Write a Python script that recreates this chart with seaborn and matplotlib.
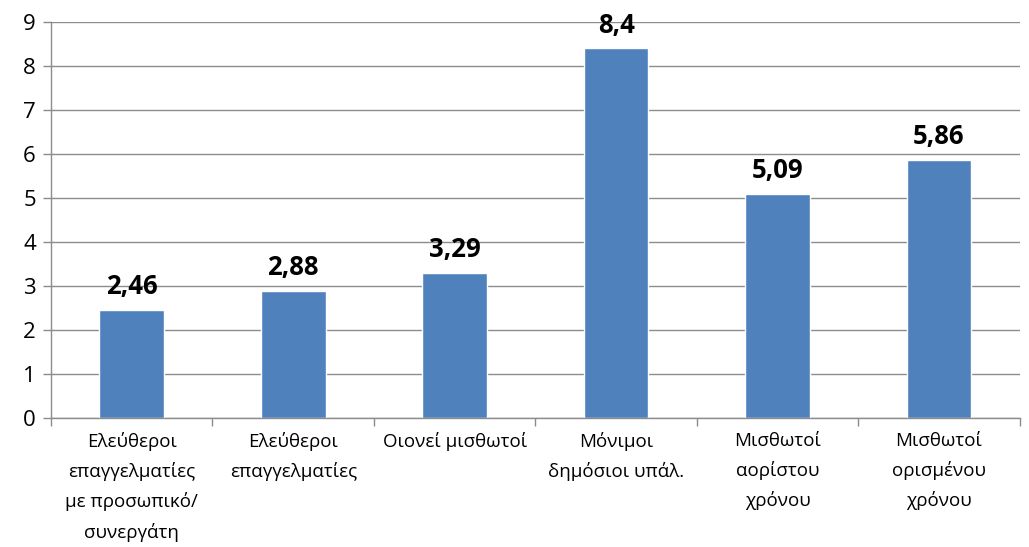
import pandas as pd
import seaborn as sns
import matplotlib.pyplot as plt

sns.set_theme(style="white")
plt.rcParams["font.family"] = ["Open Sans", "DejaVu Sans"]

# data
categories = [
    "Ελεύθεροι\nεπαγγελματίες\nμε προσωπικό/\nσυνεργάτη",
    "Ελεύθεροι\nεπαγγελματίες",
    "Οιονεί μισθωτοί",
    "Μόνιμοι\nδημόσιοι υπάλ.",
    "Μισθωτοί\nαορίστου\nχρόνου",
    "Μισθωτοί\nορισμένου\nχρόνου",
]
values = [2.46, 2.88, 3.29, 8.4, 5.09, 5.86]
value_labels = ["2,46", "2,88", "3,29", "8,4", "5,09", "5,86"]

df = pd.DataFrame({"cat": categories, "val": values})

fig = plt.figure(figsize=(10.29, 5.47), dpi=100)
ax = fig.add_axes([0.0496, 0.236, 0.9414, 0.724])

sns.barplot(data=df, x="cat", y="val", color="#4F81BD", saturation=1,
            width=0.4, ax=ax)

ax.set_ylim(0, 9)
ax.set_xlim(-0.5, len(categories) - 0.5)
ax.set_yticks(range(0, 10))
ax.yaxis.grid(True, color="#8c8c8c", linewidth=1)
ax.set_axisbelow(True)
for s in ["top", "right"]:
    ax.spines[s].set_visible(False)
for s in ["left", "bottom"]:
    ax.spines[s].set_color("#8c8c8c")
    ax.spines[s].set_linewidth(1)

# value labels
for i, (v, t) in enumerate(zip(values, value_labels)):
    ax.text(i, v + 0.22, t, ha="center", va="bottom", fontsize=18.5,
            fontweight="bold", color="black")

# category labels, tick marks between categories
ax.set_xticks(range(len(categories)))
ax.set_xticklabels(categories, fontsize=13.5, linespacing=1.75, va="top",
                   color="black")
ax.tick_params(axis="x", length=0, pad=10)
ax.set_xticks([i - 0.5 for i in range(len(categories) + 1)], minor=True)
ax.tick_params(axis="x", which="minor", length=6, color="#8c8c8c", width=1,
               bottom=True)
ax.tick_params(axis="y", length=6, color="#8c8c8c", width=1, left=True,
               labelsize=16, pad=5, labelcolor="black")
ax.set_xlabel("")
ax.set_ylabel("")

fig.savefig("out.png", dpi=100)
